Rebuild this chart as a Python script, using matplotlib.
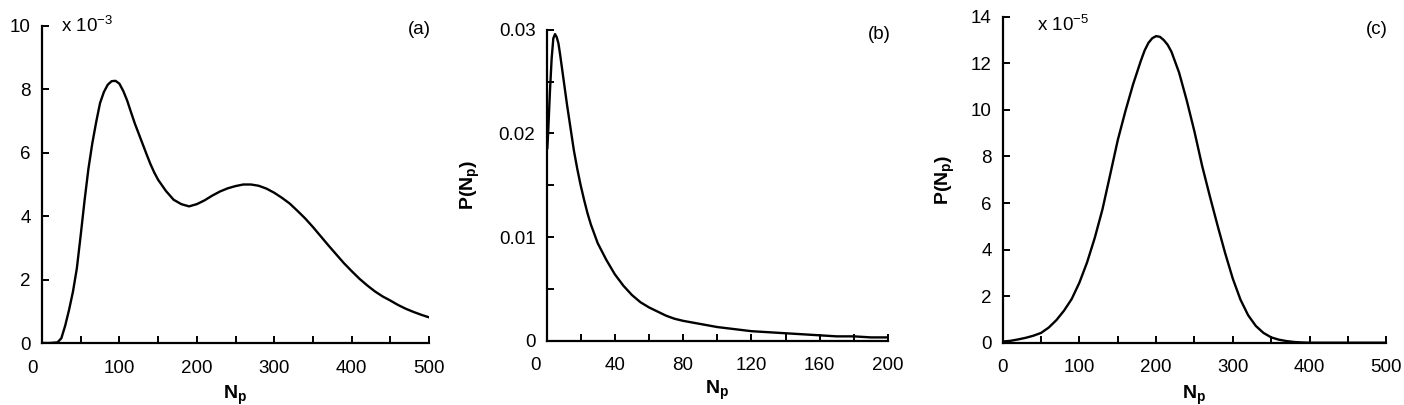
import matplotlib
matplotlib.use('Agg')
import matplotlib.pyplot as plt
import matplotlib.transforms as mtransforms
import numpy as np

plt.rcParams['font.family'] = ['Liberation Sans', 'DejaVu Sans']
plt.rcParams['mathtext.fontset'] = 'custom'
plt.rcParams['mathtext.rm'] = 'Liberation Sans'
plt.rcParams['mathtext.bf'] = 'Liberation Sans:bold'
plt.rcParams['mathtext.it'] = 'Liberation Sans:italic'

# (a) bimodal distribution, values in units of 1e-3
np_a = [0, 10, 20, 25, 30, 35, 40, 45, 50, 55, 60, 65, 70, 75, 80, 85, 90, 95,
        100, 105, 110, 115, 120, 125, 130, 135, 140, 145, 150, 160, 170, 180,
        190, 200, 210, 220, 230, 240, 250, 260, 270, 280, 290, 300, 310, 320,
        330, 340, 350, 360, 370, 380, 390, 400, 410, 420, 430, 440, 450, 460,
        470, 480, 490, 500]
p_a = [0, 0, 0.02, 0.15, 0.55, 1.05, 1.62, 2.35, 3.4, 4.5, 5.5, 6.3, 6.97, 7.57,
       7.92, 8.15, 8.26, 8.27, 8.18, 7.95, 7.65, 7.28, 6.92, 6.6, 6.28, 5.96,
       5.65, 5.38, 5.15, 4.8, 4.52, 4.38, 4.31, 4.38, 4.5, 4.65, 4.78, 4.88,
       4.95, 5.0, 5.0, 4.96, 4.87, 4.74, 4.58, 4.4, 4.17, 3.93, 3.66, 3.37,
       3.08, 2.8, 2.52, 2.27, 2.03, 1.82, 1.63, 1.47, 1.34, 1.2, 1.08, 0.98,
       0.89, 0.81]

# (b) sharply peaked, long tail
np_b = [0.5, 1, 2, 3, 4, 5, 6, 7, 8, 9, 10, 12, 14, 16, 18, 20, 22, 24, 26, 28,
        30, 35, 40, 45, 50, 55, 60, 65, 70, 75, 80, 90, 100, 110, 120, 130, 140,
        150, 160, 170, 180, 190, 200]
p_b = [0.0186, 0.0202, 0.0240, 0.0272, 0.0292, 0.0296, 0.0293, 0.0287, 0.0276,
       0.0264, 0.0252, 0.0228, 0.0206, 0.0184, 0.0166, 0.0150, 0.0136, 0.0123,
       0.0112, 0.0103, 0.0094, 0.0078, 0.0064, 0.0053, 0.0044, 0.0037, 0.0032,
       0.0028, 0.0024, 0.0021, 0.0019, 0.0016, 0.0013, 0.0011, 0.0009, 0.0008,
       0.0007, 0.0006, 0.0005, 0.0004, 0.0004, 0.0003, 0.0003]

# (c) single peak, values in units of 1e-5
np_c = [0, 10, 20, 30, 40, 50, 60, 70, 80, 90, 100, 110, 120, 130, 140, 150, 160,
        170, 180, 185, 190, 195, 200, 205, 210, 215, 220, 230, 240, 250, 260, 270,
        280, 290, 300, 310, 320, 330, 340, 350, 360, 370, 380, 390, 400, 450, 500]
p_c = [0.05, 0.08, 0.14, 0.21, 0.3, 0.42, 0.65, 0.97, 1.38, 1.88, 2.58, 3.45, 4.5,
       5.72, 7.2, 8.7, 9.95, 11.1, 12.1, 12.55, 12.88, 13.08, 13.17, 13.14, 13.0,
       12.8, 12.5, 11.6, 10.4, 9.07, 7.6, 6.3, 5.05, 3.85, 2.75, 1.85, 1.18, 0.72,
       0.42, 0.23, 0.13, 0.07, 0.03, 0.01, 0.0, 0.0, 0.0]

W, H = 1404, 405
fig = plt.figure(figsize=(W / 100, H / 100), dpi=100)

TICK_FS = 13.5
LAB_FS = 14


def px_axes(x0, x1, y0, y1):
    # pixel box (left, right, bottom-y, top-y) -> figure axes
    return fig.add_axes([x0 / W, (H - y0) / H, (x1 - x0) / W, (y0 - y1) / H])


def style(ax):
    for s in ('top', 'right'):
        ax.spines[s].set_visible(False)
    for s in ('left', 'bottom'):
        ax.spines[s].set_linewidth(1.6)
    ax.tick_params(which='both', direction='in', width=1.4, length=5,
                   labelsize=TICK_FS)
    ax.tick_params(axis='x', pad=12)
    ax.tick_params(axis='y', pad=8)


def shift_first_xlabel(ax, dx):
    lab = ax.get_xticklabels()[0]
    off = mtransforms.ScaledTranslation(dx / 100, 0, fig.dpi_scale_trans)
    lab.set_transform(lab.get_transform() + off)


xlab = r'$\mathbf{N}_\mathbf{p}$'
ylab = r'$\mathbf{P(N}_\mathbf{p}\mathbf{)}$'
line_kw = dict(color='black', lw=1.7, solid_joinstyle='round')

# panel (a)
ax1 = px_axes(42, 429, 343, 26)
ax1.plot(np_a, p_a, **line_kw)
ax1.set_xlim(0, 500)
ax1.set_ylim(0, 10)
ax1.set_xticks(np.arange(0, 501, 100))
ax1.set_xticks(np.arange(50, 500, 100), minor=True)
ax1.set_yticks(np.arange(0, 11, 2))
style(ax1)
ax1.set_xlabel(xlab, fontsize=LAB_FS, labelpad=5)
ax1.text(0.05, 1.0, r'x 10$^{-3}$', transform=ax1.transAxes, fontsize=TICK_FS,
         va='center', ha='left')
ax1.text(0.975, 0.99, '(a)', transform=ax1.transAxes, fontsize=TICK_FS,
         va='center', ha='center')
fig.canvas.draw()
shift_first_xlabel(ax1, -9)

# panel (b)
ax2 = px_axes(546.5, 888, 340.5, 30)
ax2.plot(np_b, p_b, **line_kw)
ax2.set_xlim(0, 200)
ax2.set_ylim(0, 0.03)
ax2.set_xticks(np.arange(0, 201, 40))
ax2.set_xticks(np.arange(20, 200, 40), minor=True)
ax2.set_yticks([0, 0.01, 0.02, 0.03])
ax2.set_yticklabels(['0', '0.01', '0.02', '0.03'])
ax2.set_yticks([0.005, 0.015, 0.025], minor=True)
style(ax2)
ax2.set_xlabel(xlab, fontsize=LAB_FS, labelpad=3.5)
ax2.set_ylabel(ylab, fontsize=LAB_FS, labelpad=12)
ax2.text(0.975, 0.985, '(b)', transform=ax2.transAxes, fontsize=TICK_FS,
         va='center', ha='center')
fig.canvas.draw()
shift_first_xlabel(ax2, -11)

# panel (c)
ax3 = px_axes(1002.7, 1386.2, 342.7, 16.8)
ax3.plot(np_c, p_c, **line_kw)
ax3.set_xlim(0, 500)
ax3.set_ylim(0, 14)
ax3.set_xticks(np.arange(0, 501, 100))
ax3.set_xticks(np.arange(50, 500, 100), minor=True)
ax3.set_yticks(np.arange(0, 15, 2))
style(ax3)
ax3.set_xlabel(xlab, fontsize=LAB_FS, labelpad=5)
ax3.set_ylabel(ylab, fontsize=LAB_FS, labelpad=10)
ax3.text(0.09, 0.975, r'x 10$^{-5}$', transform=ax3.transAxes, fontsize=TICK_FS,
         va='center', ha='left')
ax3.text(0.975, 0.96, '(c)', transform=ax3.transAxes, fontsize=TICK_FS,
         va='center', ha='center')

fig.savefig('out.png', dpi=100)
